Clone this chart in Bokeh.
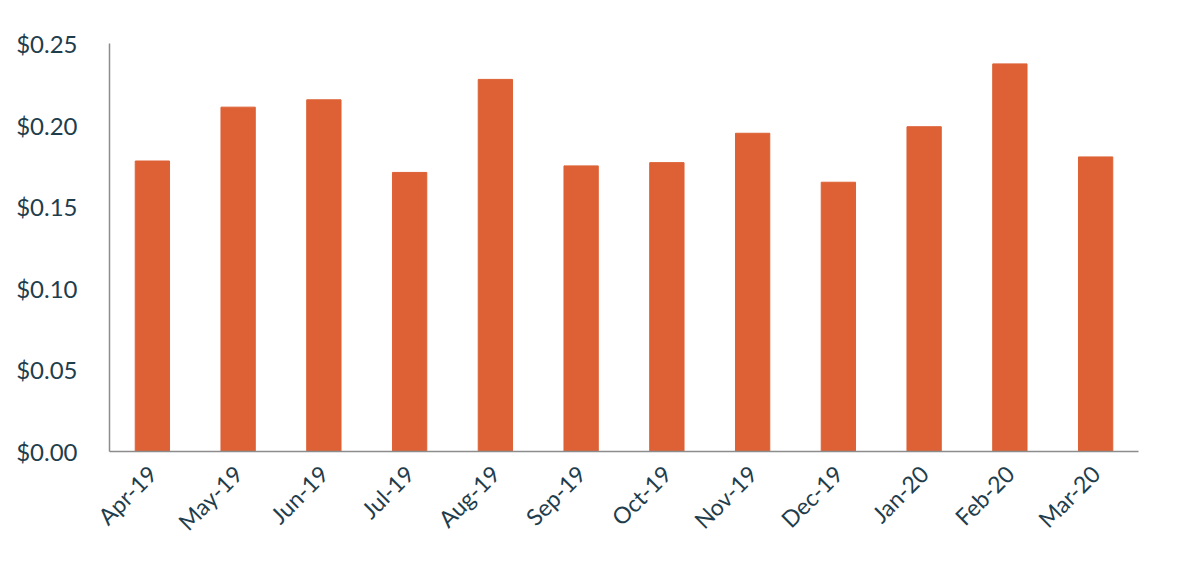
import math
from bokeh.plotting import figure
from bokeh.models import Range1d, FactorRange, FixedTicker, NumeralTickFormatter
from bokeh.embed import file_html
from bokeh.resources import INLINE

months = ["Apr-19", "May-19", "Jun-19", "Jul-19", "Aug-19", "Sep-19",
          "Oct-19", "Nov-19", "Dec-19", "Jan-20", "Feb-20", "Mar-20"]
values = [0.178, 0.211, 0.2155, 0.171, 0.228, 0.175,
          0.177, 0.195, 0.165, 0.199, 0.2375, 0.1805]
y_ticks = [0.0, 0.05, 0.10, 0.15, 0.20, 0.25]

BAR = "#DD6135"
TXT = "#1F3D4C"
AX = "#8C8C8C"
FONT = "Lato"

p = figure(width=1184, height=556, x_range=FactorRange(*months, range_padding=0),
           y_range=Range1d(0, 0.25), output_backend="svg", toolbar_location=None,
           min_border_left=109, min_border_right=46, min_border_top=43, min_border_bottom=105)
p.vbar(x=months, top=values, width=0.4, color=BAR)

p.outline_line_color = None
p.xgrid.grid_line_color = None
p.ygrid.grid_line_color = None

p.yaxis.ticker = FixedTicker(ticks=y_ticks)
p.yaxis.formatter = NumeralTickFormatter(format="$0.00")
p.yaxis.major_tick_line_color = None
p.yaxis.minor_tick_line_color = None
p.yaxis.axis_line_color = AX
p.yaxis.axis_line_width = 1.5
p.yaxis.major_label_text_font = FONT
p.yaxis.major_label_text_font_size = "24px"
p.yaxis.major_label_text_color = TXT
p.yaxis.major_label_standoff = 26

p.xaxis.major_tick_line_color = None
p.xaxis.axis_line_color = AX
p.xaxis.axis_line_width = 1.5
p.xaxis.major_label_text_font = FONT
p.xaxis.major_label_text_font_size = "23px"
p.xaxis.major_label_text_color = TXT
p.xaxis.major_label_orientation = math.pi / 4
p.xaxis.major_label_standoff = 12

open("out.html", "w").write(file_html(p, INLINE))
